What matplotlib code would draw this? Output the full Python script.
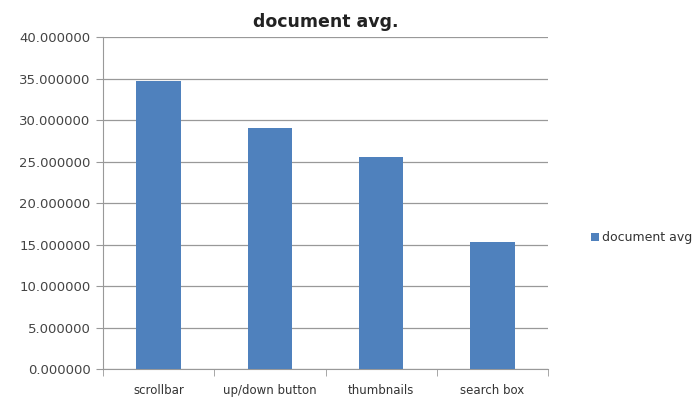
import numpy as np
import matplotlib
matplotlib.use("Agg")
import matplotlib.pyplot as plt
from matplotlib.ticker import FixedLocator, FormatStrFormatter

categories = ["scrollbar", "up/down button", "thumbnails", "search box"]
doc_avg = [34.7, 29.0, 25.5, 15.3]
series_name = "document avg"
y_ticks = [0, 5, 10, 15, 20, 25, 30, 35, 40]

fig = plt.figure(figsize=(6.92, 4.03), dpi=100)
ax = fig.add_axes([0.149, 0.084, 0.643, 0.824])

x = np.arange(len(categories))
ax.bar(x, doc_avg, width=0.4, color="#4F81BD", label=series_name, zorder=3)

ax.set_xlim(-0.5, len(categories) - 0.5)
ax.set_ylim(0, 40)
ax.set_yticks(y_ticks)
ax.yaxis.set_major_formatter(FormatStrFormatter("%.6f"))
ax.yaxis.grid(True, color="#999999", linewidth=0.9, zorder=0)

ax.set_xticks(x)
ax.set_xticklabels(categories)
ax.xaxis.set_minor_locator(FixedLocator(np.arange(-0.5, len(categories), 1.0)))
ax.tick_params(axis="x", which="major", length=0, pad=11, labelsize=8.5, colors="#333333")
ax.tick_params(axis="x", which="minor", length=5, color="#999999")
ax.tick_params(axis="y", length=5, color="#999999", labelsize=9.5, labelcolor="#444444", pad=4)

for side in ["top", "right"]:
    ax.spines[side].set_visible(False)
ax.spines["left"].set_color("#999999")
ax.spines["bottom"].set_color("#999999")

fig.text(0.471, 0.945, "document avg.", ha="center", va="center",
         fontsize=12.5, fontweight="bold", color="#222222")

fig.legend(loc="center left", bbox_to_anchor=(0.838, 0.41), frameon=False,
           fontsize=9, handlelength=0.6, handleheight=0.6, handletextpad=0.3,
           labelcolor="#333333")

fig.savefig("out.png", dpi=100)
